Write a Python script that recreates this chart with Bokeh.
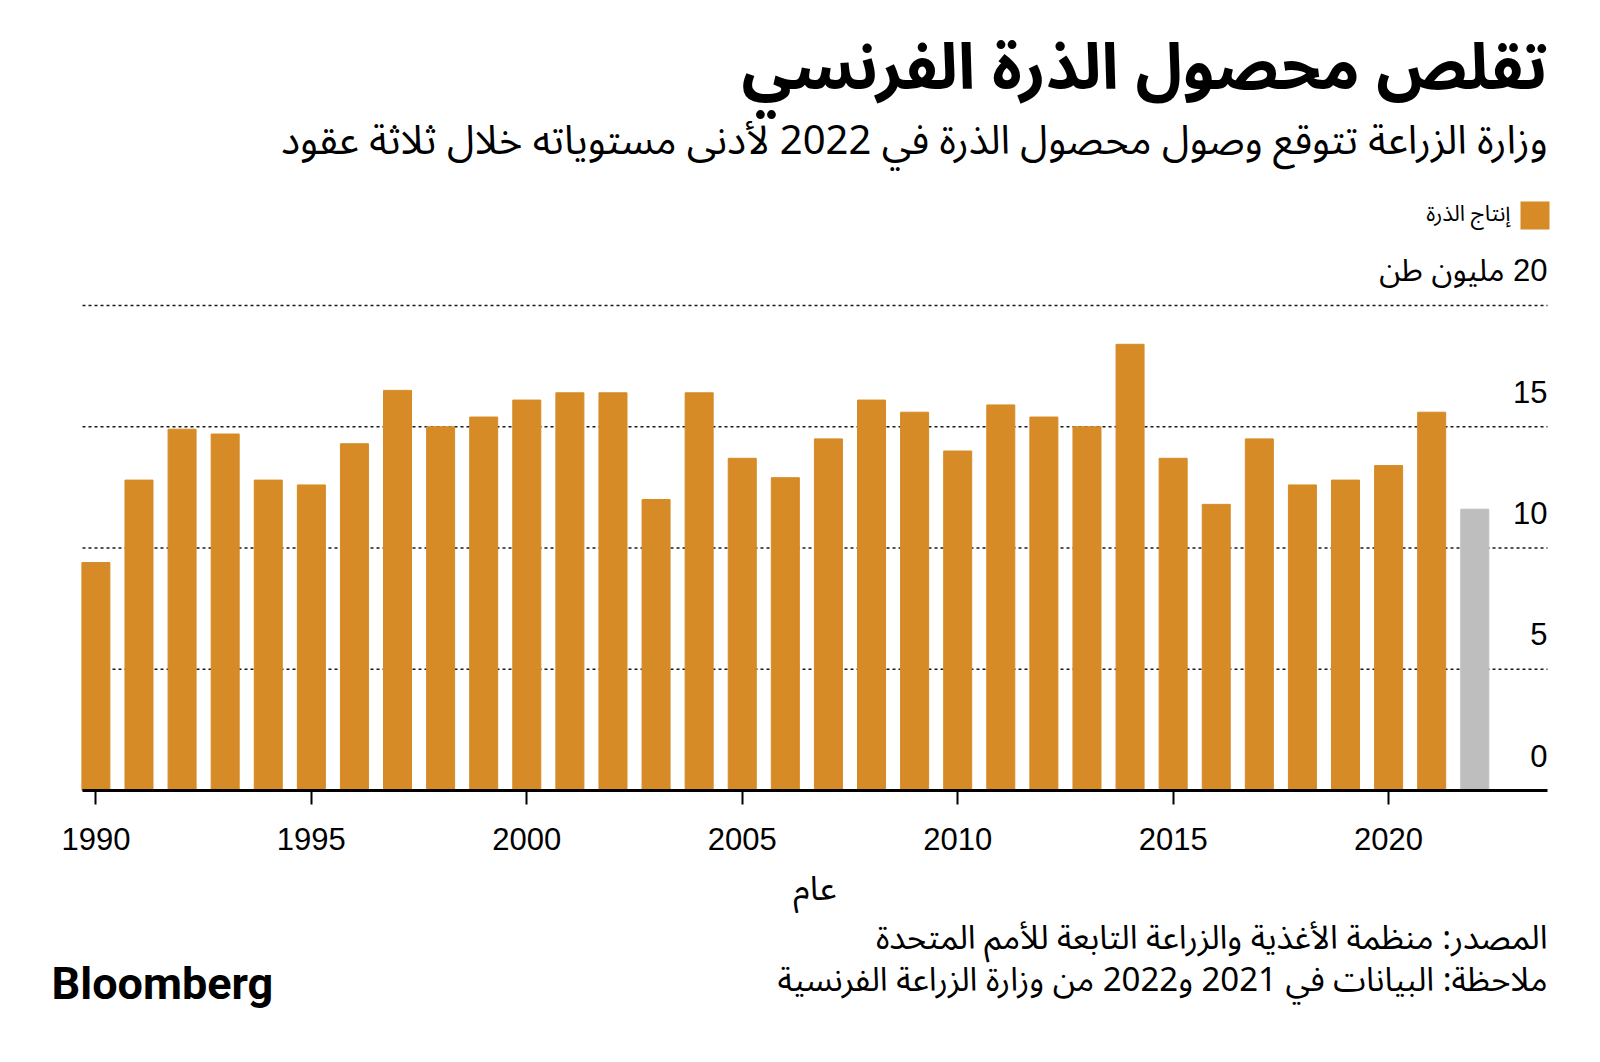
from bokeh.plotting import figure
from bokeh.models import ColumnDataSource, Range1d, FixedTicker, Label, LinearAxis
from bokeh.embed import file_html
from bokeh.resources import INLINE
from bokeh.core.properties import value

# ---------------- data ----------------
years = list(range(1990, 2023))
production = [9.4, 12.8, 14.9, 14.7, 12.8, 12.6, 14.3, 16.5, 15.0, 15.4,
              16.1, 16.4, 16.4, 12.0, 16.4, 13.7, 12.9, 14.5, 16.1, 15.6,
              14.0, 15.9, 15.4, 15.0, 18.4, 13.7, 11.8, 14.5, 12.6, 12.8,
              13.4, 15.6, 11.6]
estimate_years = [2022]
x_ticks = [1990, 1995, 2000, 2005, 2010, 2015, 2020]
y_grid_ticks = [5, 10, 15, 20]
y_tick_values = [0, 5, 10, 15, 20]
y_tick_labels = ["0", "5", "10", "15", "\u200f20 مليون طن"]

title_text = "تقلص محصول الذرة الفرنسي"
subtitle_text = "وزارة الزراعة تتوقع وصول محصول الذرة في 2022 لأدنى مستوياته خلال ثلاثة عقود"
legend_text = "إنتاج الذرة"
x_axis_text = "عام"
source_text = "المصدر: منظمة الأغذية والزراعة التابعة للأمم المتحدة"
note_text = "ملاحظة: البيانات في 2021 و2022 من وزارة الزراعة الفرنسية"

ORANGE = "#D68B27"
GRAY = "#BEBEBE"
colors = [GRAY if y in estimate_years else ORANGE for y in years]

AR_FONT = "'Noto Sans Arabic', 'DejaVu Sans'"
NUM_FONT = "'Liberation Sans', 'Noto Sans Arabic', 'DejaVu Sans'"

# ---------------- layout (page pixels) ----------------
W, H = 1584, 1046
PXX = 43.09          # px per year
PXY = 24.25          # px per unit (million t)
X_1990 = 95.4        # page x of 1990 bar centre
Y_ZERO = 790         # page y of value 0
PLOT_L, PLOT_R = 82, 1547

XR = (1990 - X_1990 / PXX, 1990 + (W - X_1990) / PXX)
YR = (-(H - Y_ZERO) / PXY, Y_ZERO / PXY)

def dx(px):
    return XR[0] + px / PXX

def dy(py):
    return (Y_ZERO - py) / PXY

p = figure(width=W, height=H, x_range=Range1d(*XR), y_range=Range1d(*YR),
           output_backend="svg", toolbar_location=None,
           x_axis_location=None, y_axis_location=None, title=None,
           min_border=0, min_border_left=0, min_border_right=0,
           min_border_top=0, min_border_bottom=0)
p.outline_line_color = None
p.background_fill_color = "white"
p.border_fill_color = "white"
p.grid.visible = False

# dotted horizontal grid lines (from tick array)
p.segment(x0=[dx(PLOT_L)] * len(y_grid_ticks), x1=[dx(PLOT_R)] * len(y_grid_ticks),
          y0=y_grid_ticks, y1=y_grid_ticks, line_color="#1a1a1a",
          line_dash="3 3", line_width=1.4)

src = ColumnDataSource(dict(year=years, value=production, color=colors))
p.vbar(x="year", top="value", width=0.65, color="color", source=src)

ax = LinearAxis(fixed_location=0)
ax.bounds = (dx(PLOT_L), dx(PLOT_R))
ax.ticker = FixedTicker(ticks=x_ticks)
ax.axis_line_width = 3
ax.axis_line_color = "black"
ax.major_tick_line_width = 2
ax.major_tick_line_color = "black"
ax.major_tick_out = 14
ax.major_tick_in = 0
ax.minor_tick_out = 0
ax.minor_tick_in = 0
ax.major_label_text_font = NUM_FONT
ax.major_label_text_font_size = "31px"
ax.major_label_text_color = "black"
ax.major_label_standoff = 23
ax.axis_label = x_axis_text
ax.axis_label_text_font = AR_FONT
ax.axis_label_text_font_size = "34px"
ax.axis_label_text_font_style = "normal"
ax.axis_label_text_color = "black"
ax.axis_label_standoff = 0
p.add_layout(ax, "below")

p.text(x=[dx(PLOT_R)] * len(y_tick_values), y=y_tick_values, text=y_tick_labels,
       text_align="right", text_baseline="alphabetic", y_offset=-35,
       text_font=value(NUM_FONT), text_font_size="31px", text_color="black")

def lab(text, x, y, size, align="right", bold=False, font=AR_FONT):
    p.add_layout(Label(x=dx(x), y=dy(y), text=text, text_align=align,
                       text_baseline="alphabetic", text_font=font,
                       text_font_size=size, text_color="black",
                       text_font_style="bold" if bold else "normal"))

lab(title_text, 1547, 68, "64px", bold=True)
lab(subtitle_text, 1547, 141, "40px")
lab(legend_text, 1510, 213, "22px")
lab(source_text, 1547, 938, "33px")
lab(note_text, 1547, 980, "33px")
lab("Bloomberg", 51, 983, "45px", align="left", bold=True, font="Roboto")

# legend swatch
p.quad(left=[dx(1520)], right=[dx(1549)], top=[dy(201)], bottom=[dy(229)],
       fill_color=ORANGE, line_color=None)

open("out.html", "w").write(file_html(p, INLINE))
